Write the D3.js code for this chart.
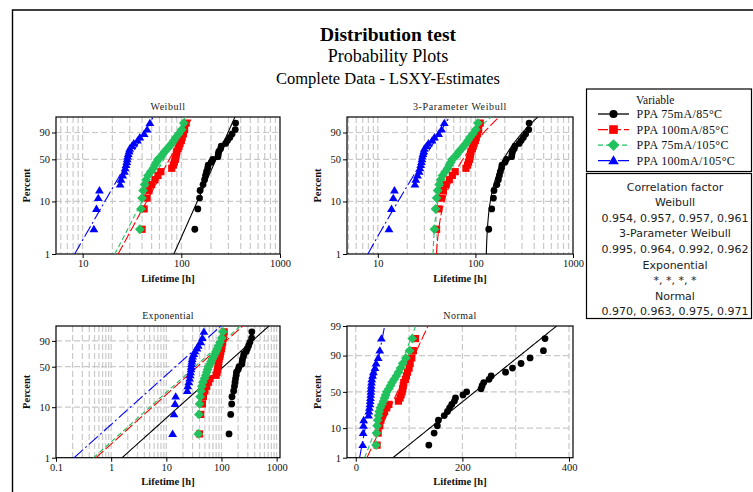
<!DOCTYPE html>
<html><head><meta charset="utf-8">
<script src="https://cdn.jsdelivr.net/npm/d3@7"></script>
<style>body{margin:0;background:#fff;overflow:hidden}</style>
</head><body>
<svg id="c" width="753" height="492"></svg>
<script>
// ---------------- data ----------------
const seriesNames = ["PPA 75mA/85°C", "PPA 100mA/85°C", "PPA 75mA/105°C", "PPA 100mA/105°C"];
const seriesColors = ["#000000", "#ff0000", "#21c25e", "#0000ff"];
const seriesDash = [null, "10,3", "5,3", "12,3,2,3"];
const seriesSymbols = ["circle", "square", "diamond", "triangle"];

const life75mA85C  = [137,147,153,155,166,172,176,180,185,187,201,208,235,237,240,250,254,281,294,310,327,352,355];
const life100mA85C = [40,42,45,47,50,54,58,62,80,83,85,87,88,89,90,93,95,97,100,102,105,108,112];
const life75mA105C = [38,39,40,41,42.5,44,46,49,52,54,56,58,62,65,68,72,76,80,84,88,94,101,106];
const life100mA105C= [13,13.8,14.4,14.8,24,24.5,25.5,26.5,27,27.5,28,28.3,28.6,29,29.5,30,31.5,33,36,38,42,45,48];
const lifetimes = [life75mA85C, life100mA85C, life75mA105C, life100mA105C];

// fitted (LSXY) parameters
const weibullShape = [4.3, 3.54, 3.72, 3.34];
const weibullScale = [245, 83.9, 73, 32.9];
const weib3Shape = [1.25, 1.43, 1.25, 3.0];
const weib3Scale = [91, 47, 32, 32];
const weib3Threshold = [127, 38, 36, 1];
const expMean = [157, 52.7, 47.6, 21.2];
const normMean = [223.3, 78.2, 64.5, 30.6];
const normSD = [66.0, 24.6, 20.6, 10.1];

// axes
const weibullXTicks = [10, 100, 1000];
const weibullXLabels = ["10", "100", "1000"];
const expXTicks = [0.1, 1, 10, 100, 1000];
const expXLabels = ["0.1", "1", "10", "100", "1000"];
const normXTicks = [0, 200, 400];
const normXGrid = [0, 100, 200, 300, 400];
const pctTicksWeibull = [1, 10, 50, 90];
const pctTicksNormal = [1, 10, 50, 90, 99];
const pctGrid = [10, 50, 90];

const titleLines = ["Distribution test", "Probability Plots", "Complete Data - LSXY-Estimates"];
const legendTitle = "Variable";
const corrTitle = "Correlation factor";
const corrNames = ["Weibull", "3-Parameter Weibull", "Exponential", "Normal"];
const corrValues = ["0.954, 0.957, 0.957, 0.961", "0.995, 0.964, 0.992, 0.962", "*, *, *, *", "0.970, 0.963, 0.975, 0.971"];

// ---------------- helpers ----------------
function qnorm(p){
 const a=[-3.969683028665376e+01,2.209460984245205e+02,-2.759285104469687e+02,1.383577518672690e+02,-3.066479806614716e+01,2.506628277459239e+00];
 const b=[-5.447609879822406e+01,1.615858368580409e+02,-1.556989798598866e+02,6.680131188771972e+01,-1.328068155288572e+01];
 const c=[-7.784894002430293e-03,-3.223964580411365e-01,-2.400758277161838e+00,-2.549732539343734e+00,4.374664141464968e+00,2.938163982698783e+00];
 const d=[7.784695709041462e-03,3.224671290700398e-01,2.445134137142996e+00,3.754408661907416e+00];
 const pl=0.02425, ph=1-pl; let q,r;
 if(p<pl){q=Math.sqrt(-2*Math.log(p));return (((((c[0]*q+c[1])*q+c[2])*q+c[3])*q+c[4])*q+c[5])/((((d[0]*q+d[1])*q+d[2])*q+d[3])*q+1);}
 if(p<=ph){q=p-0.5;r=q*q;return (((((a[0]*r+a[1])*r+a[2])*r+a[3])*r+a[4])*r+a[5])*q/(((((b[0]*r+b[1])*r+b[2])*r+b[3])*r+b[4])*r+1);}
 q=Math.sqrt(-2*Math.log(1-p));return -(((((c[0]*q+c[1])*q+c[2])*q+c[3])*q+c[4])*q+c[5])/((((d[0]*q+d[1])*q+d[2])*q+d[3])*q+1);
}
const tWeib = p => Math.log(-Math.log(1 - p));
const tNorm = p => qnorm(p);

function drawSymbol(g, type, x, y, color, s) {
  s = s || 1;
  if (type === "circle") g.append("circle").attr("cx", x).attr("cy", y).attr("r", 3.4*s).attr("fill", color);
  else if (type === "square") g.append("rect").attr("x", x-3.6*s).attr("y", y-3.6*s).attr("width", 7.2*s).attr("height", 7.2*s).attr("fill", color);
  else if (type === "diamond") { const h = 4.9*s; g.append("path").attr("d", `M${x},${y-h}L${x+h},${y}L${x},${y+h}L${x-h},${y}Z`).attr("fill", color); }
  else { const w = 4.4*s, h = 7.4*s; g.append("path").attr("d", `M${x},${y-h*0.6}L${x+w},${y+h*0.4}L${x-w},${y+h*0.4}Z`).attr("fill", color); }
}

const svg = d3.select("#c");
const serif = "'Liberation Serif','Times New Roman',serif";

// outer frame
svg.append("path").attr("d", "M12.5,495V10H760").attr("fill", "none").attr("stroke", "#000").attr("stroke-width", 1.4);

// titles
const tcx = 388;
[[titleLines[0], 41, 19.5, "bold"],[titleLines[1], 62, 18, "normal"],[titleLines[2], 83.5, 16.5, "normal"]].forEach(([s, y, fs, fw]) => {
  svg.append("text").attr("x", tcx).attr("y", y).attr("text-anchor", "middle").attr("font-family", serif).attr("font-size", fs)
    .attr("font-weight", fw).attr("fill", "#000").text(s);
});

// ---------------- panels ----------------
const panels = [
  {title: "Weibull", ls: 0.5, x0: 56, x1: 280, y0: 117, y1: 254, xKind: "log", xDomain: [5.37, 1000], xTicks: weibullXTicks, xLabels: weibullXLabels,
   yT: tWeib, yTicks: pctTicksWeibull,
   fit: (i, p) => weibullScale[i] * Math.pow(-Math.log(1 - p), 1 / weibullShape[i])},
  {title: "3-Parameter Weibull", ls: 0.6, x0: 347, x1: 573, y0: 117, y1: 254, xKind: "log", xDomain: [4.83, 1000], xTicks: weibullXTicks, xLabels: weibullXLabels,
   yT: tWeib, yTicks: pctTicksWeibull,
   fit: (i, p) => weib3Threshold[i] + weib3Scale[i] * Math.pow(-Math.log(1 - p), 1 / weib3Shape[i])},
  {title: "Exponential", ls: 0.3, x0: 56, x1: 280, y0: 326, y1: 457.7, xKind: "log", xDomain: [0.1, 1150], xTicks: expXTicks, xLabels: expXLabels,
   yT: tWeib, yTicks: pctTicksWeibull,
   fit: (i, p) => expMean[i] * (-Math.log(1 - p))},
  {title: "Normal", ls: 0.5, x0: 347, x1: 573, y0: 326, y1: 457.7, xKind: "lin", xDomain: [-16.5, 407.5], xTicks: normXTicks, xLabels: normXTicks.map(String),
   yT: tNorm, yTicks: pctTicksNormal,
   fit: (i, p) => normMean[i] + normSD[i] * qnorm(p)}
];

const defs = svg.append("defs");

panels.forEach((P, pi) => {
  const g = svg.append("g");
  const xs = (P.xKind === "log" ? d3.scaleLog() : d3.scaleLinear()).domain(P.xDomain).range([P.x0, P.x1]);
  const ys = d3.scaleLinear().domain([P.yT(0.01), P.yT(0.99)]).range([P.y1, P.y0]);

  defs.append("clipPath").attr("id", "clip" + pi).append("rect")
    .attr("x", P.x0).attr("y", P.y0).attr("width", P.x1 - P.x0).attr("height", P.y1 - P.y0);

  // grid
  let vgrid;
  if (P.xKind === "log") {
    vgrid = [];
    for (let k = -2; k <= 4; k++) for (let m = 1; m <= 9; m++) {
      const v = m * Math.pow(10, k);
      if (v > P.xDomain[0] * 1.01 && v < P.xDomain[1] * 0.99) vgrid.push(v);
    }
  } else vgrid = normXGrid;
  const grid = g.append("g").attr("stroke", "#c9c9c9").attr("stroke-width", 1.2).attr("stroke-dasharray", "6,3");
  vgrid.forEach(v => grid.append("line").attr("x1", xs(v)).attr("x2", xs(v)).attr("y1", P.y0).attr("y2", P.y1));
  pctGrid.forEach(v => grid.append("line").attr("x1", P.x0).attr("x2", P.x1).attr("y1", ys(P.yT(v / 100))).attr("y2", ys(P.yT(v / 100))));

  // axes
  const xa = g.append("g").attr("transform", `translate(0,${P.y1})`)
    .call(d3.axisBottom(xs).tickValues(P.xTicks).tickFormat((d, i) => P.xLabels[i]).tickSize(4).tickSizeOuter(0).tickPadding(2));
  const ya = g.append("g").attr("transform", `translate(${P.x0},0)`)
    .call(d3.axisLeft(ys).tickValues(P.yTicks.map(v => P.yT(v / 100))).tickFormat((d, i) => String(P.yTicks[i])).tickSize(4).tickSizeOuter(0).tickPadding(2));
  [xa, ya].forEach(a => {
    a.select(".domain").remove();
    a.selectAll("line").attr("stroke", "#000");
    a.selectAll("text").attr("font-family", serif).attr("font-size", 10.5).attr("fill", "#111");
  });

  // frame
  g.append("rect").attr("x", P.x0).attr("y", P.y0).attr("width", P.x1 - P.x0).attr("height", P.y1 - P.y0)
    .attr("fill", "none").attr("stroke", "#000").attr("stroke-width", 1.2);

  // title and axis labels
  g.append("text").attr("x", (P.x0 + P.x1) / 2).attr("y", P.y0 - 7).attr("text-anchor", "middle")
    .attr("font-family", serif).attr("font-size", 10).attr("letter-spacing", P.ls).attr("fill", "#222").text(P.title);
  g.append("text").attr("x", (P.x0 + P.x1) / 2).attr("y", P.y1 + 27.7).attr("text-anchor", "middle")
    .attr("font-family", serif).attr("font-size", 10.5).attr("font-weight", "bold").attr("fill", "#111").text("Lifetime [h]");
  g.append("text").attr("transform", `translate(${P.x0 - 26},${(P.y0 + P.y1) / 2}) rotate(-90)`).attr("text-anchor", "middle")
    .attr("font-family", serif).attr("font-size", 10.5).attr("font-weight", "bold").attr("fill", "#111").text("Percent");

  // series: fit line then points
  const plotG = g.append("g").attr("clip-path", `url(#clip${pi})`);
  const probs = d3.range(0.01, 0.99001, 0.0025);
  lifetimes.forEach((data, si) => {
    const line = d3.line().x(p => xs(P.fit(si, p))).y(p => ys(P.yT(p)));
    plotG.append("path").attr("d", line(probs)).attr("fill", "none").attr("stroke", seriesColors[si])
      .attr("stroke-width", 1.1).attr("stroke-dasharray", seriesDash[si]);
  });
  lifetimes.forEach((data, si) => {
    const sorted = data.slice().sort((a, b) => a - b);
    const n = sorted.length;
    sorted.forEach((v, i) => {
      const p = (i + 1 - 0.3) / (n + 0.4);
      drawSymbol(g, seriesSymbols[si], xs(v), ys(P.yT(p)), seriesColors[si]);
    });
  });
});

// ---------------- legend ----------------
const lg = svg.append("g");
lg.append("rect").attr("x", 586.5).attr("y", 89).attr("width", 165).attr("height", 82.5).attr("fill", "#fff").attr("stroke", "#000").attr("stroke-width", 1.2);
lg.append("text").attr("x", 636).attr("y", 103.5).attr("font-family", serif).attr("font-size", 11.5).attr("fill", "#111").text(legendTitle);
seriesNames.forEach((s, i) => {
  const y = 114 + i * 15.55;
  lg.append("line").attr("x1", 598).attr("x2", 629).attr("y1", y).attr("y2", y).attr("stroke", seriesColors[i])
    .attr("stroke-width", 1.3).attr("stroke-dasharray", seriesDash[i]);
  drawSymbol(lg, seriesSymbols[i], 613.5, y, seriesColors[i], 1.2);
  lg.append("text").attr("x", 636.5).attr("y", y + 4.3).attr("font-family", serif).attr("font-size", 12)
    .attr("letter-spacing", 0.35).attr("fill", "#111").text(s);
});

// ---------------- correlation box ----------------
const cg = svg.append("g");
cg.append("rect").attr("x", 586.5).attr("y", 173.5).attr("width", 165).attr("height", 145).attr("fill", "#fff").attr("stroke", "#000").attr("stroke-width", 1.2);
const corrLines = [corrTitle];
corrNames.forEach((n, i) => { corrLines.push(n); corrLines.push(corrValues[i]); });
corrLines.forEach((s, i) => {
  cg.append("text").attr("x", 675).attr("y", 190.8 + i * 15.55).attr("text-anchor", "middle")
    .attr("font-family", "'DejaVu Sans',Verdana,sans-serif").attr("font-size", 11).attr("fill", "#222").text(s);
});
</script>
</body></html>
